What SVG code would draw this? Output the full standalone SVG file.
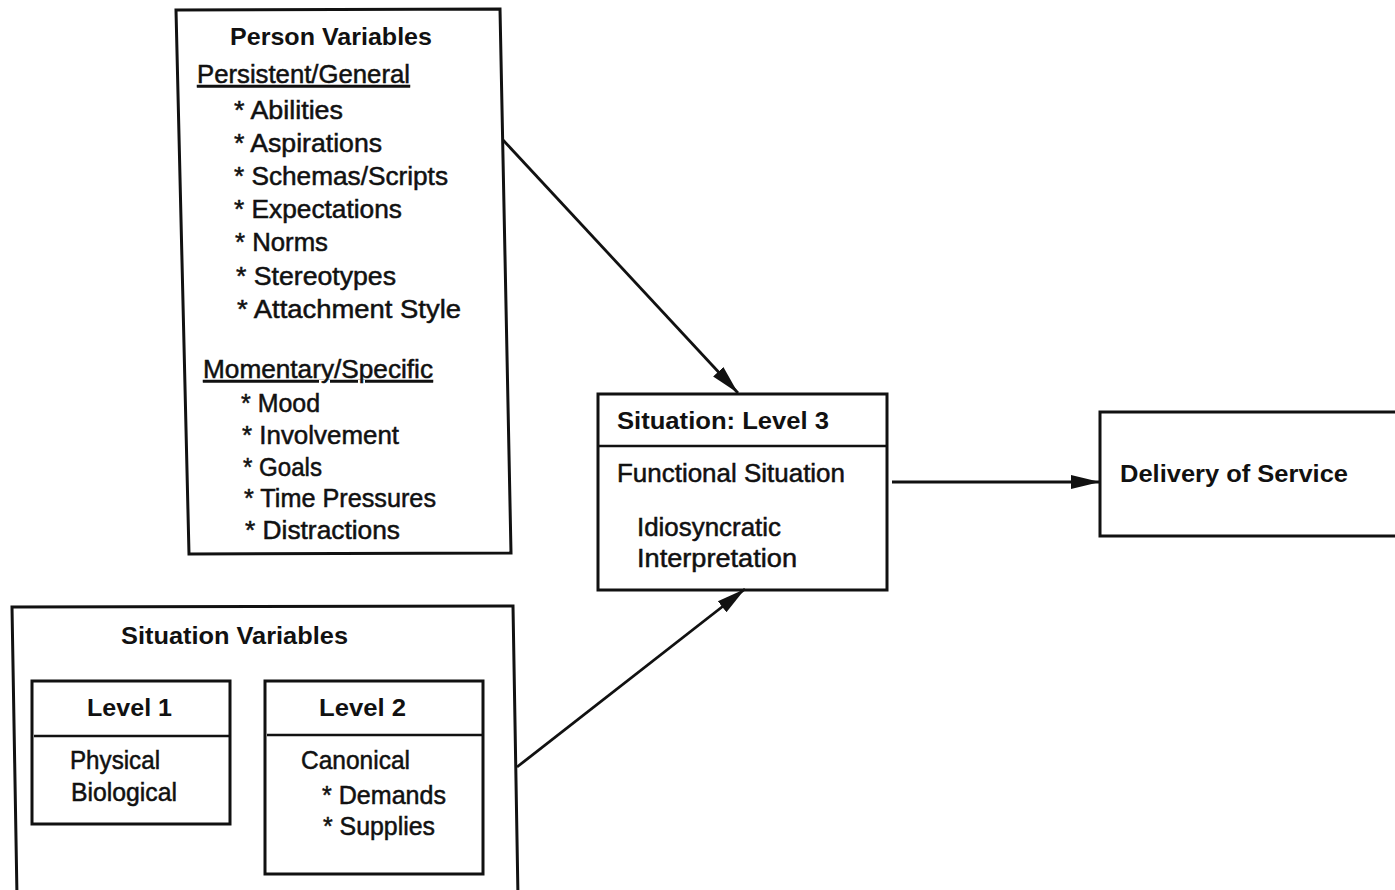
<svg xmlns="http://www.w3.org/2000/svg" width="1395" height="890" viewBox="0 0 1395 890">
<defs>
<style>
.box{fill:none;stroke:#111;stroke-width:3;stroke-linejoin:miter}
.div{stroke:#111;stroke-width:2.5}
.t{font-family:"Liberation Sans",Arial,sans-serif;font-size:25px;fill:#111;stroke:#111;stroke-width:0.5}
.b{font-family:"Liberation Sans",Arial,sans-serif;font-size:24px;font-weight:bold;fill:#111}
.u{text-decoration:underline}
.con{stroke:#111;stroke-width:2.8;fill:none}
</style>
<marker id="ah" markerUnits="userSpaceOnUse" markerWidth="32" markerHeight="18" refX="29" refY="9" orient="auto">
<path d="M0,2 L29,9 L0,16 Z" fill="#111"/>
</marker>
</defs>
<rect width="1395" height="890" fill="#fff"/>

<g id="person-variables">
<path class="box" d="M176,10 L500,9 L511,553 L189,554 Z"/>
<text class="b" x="230" y="45" textLength="202" lengthAdjust="spacingAndGlyphs">Person Variables</text>
<text class="t u" x="197" y="83" textLength="213" lengthAdjust="spacingAndGlyphs">Persistent/General</text>
<text class="t" x="234" y="119" textLength="109" lengthAdjust="spacingAndGlyphs">* Abilities</text>
<text class="t" x="234" y="152" textLength="148" lengthAdjust="spacingAndGlyphs">* Aspirations</text>
<text class="t" x="234" y="185" textLength="214" lengthAdjust="spacingAndGlyphs">* Schemas/Scripts</text>
<text class="t" x="234" y="218" textLength="168" lengthAdjust="spacingAndGlyphs">* Expectations</text>
<text class="t" x="235" y="251" textLength="93" lengthAdjust="spacingAndGlyphs">* Norms</text>
<text class="t" x="236" y="285" textLength="160" lengthAdjust="spacingAndGlyphs">* Stereotypes</text>
<text class="t" x="237" y="318" textLength="224" lengthAdjust="spacingAndGlyphs">* Attachment Style</text>
<text class="t u" x="203" y="378" textLength="230" lengthAdjust="spacingAndGlyphs">Momentary/Specific</text>
<text class="t" x="241" y="412" textLength="79" lengthAdjust="spacingAndGlyphs">* Mood</text>
<text class="t" x="242" y="444" textLength="157" lengthAdjust="spacingAndGlyphs">* Involvement</text>
<text class="t" x="243" y="476" textLength="79" lengthAdjust="spacingAndGlyphs">* Goals</text>
<text class="t" x="244" y="507" textLength="192" lengthAdjust="spacingAndGlyphs">* Time Pressures</text>
<text class="t" x="245" y="539" textLength="155" lengthAdjust="spacingAndGlyphs">* Distractions</text>
</g>

<g id="situation-variables">
<path class="box" d="M17,897 L12,607 L513,606 L518,897"/>
<text class="b" x="121" y="644" textLength="227" lengthAdjust="spacingAndGlyphs">Situation Variables</text>
</g>

<g id="level-1">
<rect class="box" x="32" y="681" width="198" height="143"/>
<line class="div" x1="34" y1="736" x2="229" y2="736"/>
<text class="b" x="87" y="716" textLength="85" lengthAdjust="spacingAndGlyphs">Level 1</text>
<text class="t" x="70" y="769" textLength="90" lengthAdjust="spacingAndGlyphs">Physical</text>
<text class="t" x="71" y="801" textLength="106" lengthAdjust="spacingAndGlyphs">Biological</text>
</g>

<g id="level-2">
<rect class="box" x="265" y="681" width="218" height="193"/>
<line class="div" x1="267" y1="735" x2="482" y2="735"/>
<text class="b" x="319" y="716" textLength="87" lengthAdjust="spacingAndGlyphs">Level 2</text>
<text class="t" x="301" y="769" textLength="109" lengthAdjust="spacingAndGlyphs">Canonical</text>
<text class="t" x="322" y="804" textLength="124" lengthAdjust="spacingAndGlyphs">* Demands</text>
<text class="t" x="323" y="835" textLength="112" lengthAdjust="spacingAndGlyphs">* Supplies</text>
</g>

<g id="situation-level-3">
<rect class="box" x="598" y="394" width="289" height="196"/>
<line class="div" x1="599" y1="446" x2="886" y2="446"/>
<text class="b" x="617" y="429" textLength="212" lengthAdjust="spacingAndGlyphs">Situation: Level 3</text>
<text class="t" x="617" y="482" textLength="228" lengthAdjust="spacingAndGlyphs">Functional Situation</text>
<text class="t" x="637" y="536" textLength="144" lengthAdjust="spacingAndGlyphs">Idiosyncratic</text>
<text class="t" x="637" y="567" textLength="160" lengthAdjust="spacingAndGlyphs">Interpretation</text>
</g>

<g id="delivery-of-service">
<rect class="box" x="1100" y="412" width="310" height="124"/>
<text class="b" x="1120" y="482" textLength="228" lengthAdjust="spacingAndGlyphs">Delivery of Service</text>
</g>

<g id="connectors">
<line class="con" x1="503" y1="140" x2="738" y2="393" marker-end="url(#ah)"/>
<line class="con" x1="517" y1="767" x2="745" y2="589" marker-end="url(#ah)"/>
<line class="con" x1="892" y1="482" x2="1100" y2="482" marker-end="url(#ah)"/>
</g>
</svg>
